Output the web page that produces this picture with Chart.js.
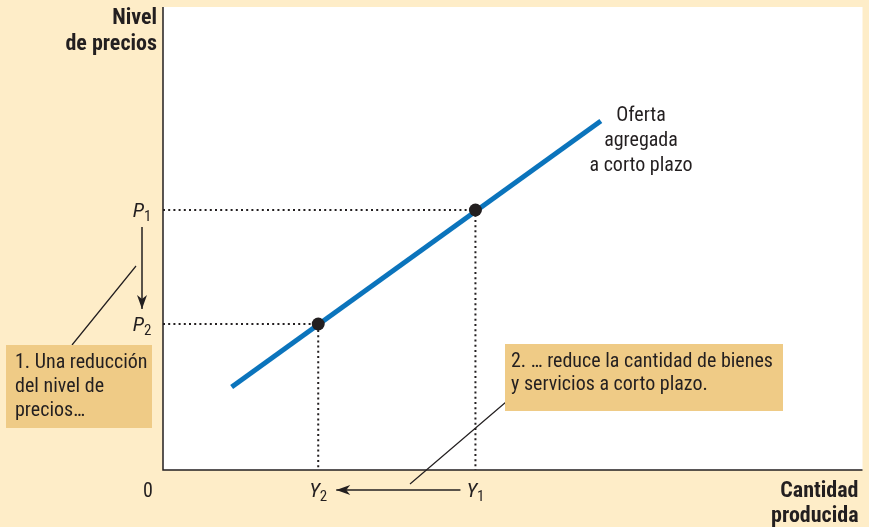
<!DOCTYPE html>
<html>
<head>
<meta charset="utf-8">
<script src="https://cdn.jsdelivr.net/npm/chart.js@4"></script>
<style>
  html, body { margin: 0; padding: 0; background: #FEEDC8; }
  canvas { display: block; }
</style>
</head>
<body>
<canvas id="c" width="869" height="527"></canvas>
<script>
// ---- data ----
const supplyX = [69, 440];           // short-run aggregate supply endpoints (quantity)
const supplyY = [83, 349];           // short-run aggregate supply endpoints (price level)
const outputLevels = [156, 314];     // Y2, Y1
const priceLevels = [146, 260];      // P2, P1
const outputLabels = ['Y2', 'Y1'];
const priceLabels = ['P2', 'P1'];
const axisTitles = { y: ['Nivel', 'de precios'], x: ['Cantidad', 'producida'] };
const curveLabel = ['Oferta', 'agregada', 'a corto plazo'];
const note1 = ['1. Una reducción', 'del nivel de', 'precios…'];
const note2 = ['2. … reduce la cantidad de bienes', 'y servicios a corto plazo.'];

const FONT = '"Liberation Sans Narrow", "Roboto Condensed", "Open Sans", sans-serif';
const INK = '#231F20';
const BOX = '#EFCB86';

const supplyData = supplyX.map((x, i) => ({ x, y: supplyY[i] }));
const guide = i => [
  { x: 0, y: priceLevels[i] },
  { x: outputLevels[i], y: priceLevels[i] },
  { x: outputLevels[i], y: 0 }
];
const eqPoints = outputLevels.map((x, i) => ({ x, y: priceLevels[i] }));

function subLabel(ctx, text, cx, cy) {
  const main = text[0], sub = text.slice(1);
  ctx.font = 'italic 21px ' + FONT;
  const w1 = ctx.measureText(main).width;
  ctx.font = '15px ' + FONT;
  const w2 = ctx.measureText(sub).width;
  const x0 = cx - (w1 + w2) / 2;
  ctx.textAlign = 'left';
  ctx.textBaseline = 'alphabetic';
  ctx.font = 'italic 21px ' + FONT;
  ctx.fillText(main, x0, cy + 7);
  ctx.font = '15px ' + FONT;
  ctx.fillText(sub, x0 + w1, cy + 11);
}

function arrow(ctx, x1, y1, x2, y2) {
  ctx.beginPath();
  ctx.moveTo(x1, y1);
  ctx.lineTo(x2, y2);
  ctx.stroke();
  const a = Math.atan2(y2 - y1, x2 - x1);
  const L = 14, W = 5;
  ctx.beginPath();
  ctx.moveTo(x2, y2);
  ctx.lineTo(x2 - L * Math.cos(a) + W * Math.sin(a), y2 - L * Math.sin(a) - W * Math.cos(a));
  ctx.lineTo(x2 - (L - 4) * Math.cos(a), y2 - (L - 4) * Math.sin(a));
  ctx.lineTo(x2 - L * Math.cos(a) - W * Math.sin(a), y2 - L * Math.sin(a) + W * Math.cos(a));
  ctx.closePath();
  ctx.fill();
}

const decor = {
  id: 'decor',
  beforeDraw(chart) {
    const { ctx, chartArea: a } = chart;
    ctx.save();
    ctx.fillStyle = '#FEEDC8';
    ctx.fillRect(0, 0, chart.width, chart.height);
    ctx.fillStyle = '#FFFFFF';
    ctx.fillRect(a.left, a.top, a.right - a.left, a.bottom - a.top);
    ctx.restore();
  },
  afterDraw(chart) {
    const { ctx, chartArea: a, scales: { x, y } } = chart;
    ctx.save();
    // axes
    ctx.strokeStyle = INK;
    ctx.lineWidth = 1.5;
    ctx.beginPath();
    ctx.moveTo(a.left, a.top);
    ctx.lineTo(a.left, a.bottom);
    ctx.lineTo(a.right, a.bottom);
    ctx.stroke();

    ctx.fillStyle = INK;
    // axis titles
    ctx.font = 'bold 22px ' + FONT;
    ctx.textAlign = 'right';
    ctx.textBaseline = 'alphabetic';
    ctx.fillText(axisTitles.y[0], a.left - 6, 24);
    ctx.fillText(axisTitles.y[1], a.left - 6, 50);
    ctx.fillText(axisTitles.x[0], a.right - 4, 497);
    ctx.fillText(axisTitles.x[1], a.right - 4, 522);

    // origin
    ctx.font = '20px ' + FONT;
    ctx.textAlign = 'center';
    ctx.fillText('0', a.left - 15, 497);

    // tick-like labels
    const yLab = a.bottom + 20;
    const xs = outputLevels.map(v => x.getPixelForValue(v));
    const ys = priceLevels.map(v => y.getPixelForValue(v));
    outputLabels.forEach((t, i) => subLabel(ctx, t, xs[i], yLab));
    priceLabels.forEach((t, i) => subLabel(ctx, t, a.left - 21, ys[i]));

    // arrows
    ctx.lineWidth = 1.5;
    arrow(ctx, xs[1] - 15, yLab, xs[0] + 18, yLab);
    arrow(ctx, a.left - 21, ys[1] + 17, a.left - 21, ys[0] - 15);

    // leader lines
    ctx.lineWidth = 1.2;
    ctx.beginPath();
    ctx.moveTo(136, 266); ctx.lineTo(72, 345);
    ctx.moveTo(506, 402); ctx.lineTo(410, 484);
    ctx.stroke();

    // note boxes
    ctx.fillStyle = BOX;
    ctx.fillRect(6, 345, 146, 83);
    ctx.fillRect(505, 344, 278, 67);
    ctx.fillStyle = INK;
    ctx.font = '20px ' + FONT;
    ctx.textAlign = 'left';
    note1.forEach((t, i) => ctx.fillText(t, 15, 368 + i * 24));
    note2.forEach((t, i) => ctx.fillText(t, 511, 367 + i * 23));

    // curve label
    ctx.textAlign = 'center';
    curveLabel.forEach((t, i) => ctx.fillText(t, 641, 121 + i * 25));
    ctx.restore();
  }
};

new Chart(document.getElementById('c'), {
  type: 'scatter',
  data: {
    datasets: [
      { data: guide(1), showLine: true, borderColor: INK, borderWidth: 2, borderDash: [2, 3.2], pointRadius: 0, order: 3 },
      { data: guide(0), showLine: true, borderColor: INK, borderWidth: 2, borderDash: [2, 3.2], pointRadius: 0, order: 3 },
      { data: supplyData, showLine: true, borderColor: '#0B74BC', borderWidth: 5, pointRadius: 0, borderCapStyle: 'butt', order: 2 },
      { data: eqPoints, showLine: false, pointRadius: 6.5, pointBackgroundColor: INK, pointBorderColor: INK, pointBorderWidth: 0, order: 1 }
    ]
  },
  options: {
    responsive: false,
    animation: false,
    devicePixelRatio: 1,
    layout: { padding: { left: 163, top: 7, right: 3, bottom: 57 } },
    plugins: { legend: { display: false }, tooltip: { enabled: false } },
    scales: {
      x: { type: 'linear', min: 0, max: 703, display: false },
      y: { type: 'linear', min: 0, max: 463, display: false }
    }
  },
  plugins: [decor]
});
</script>
</body>
</html>
